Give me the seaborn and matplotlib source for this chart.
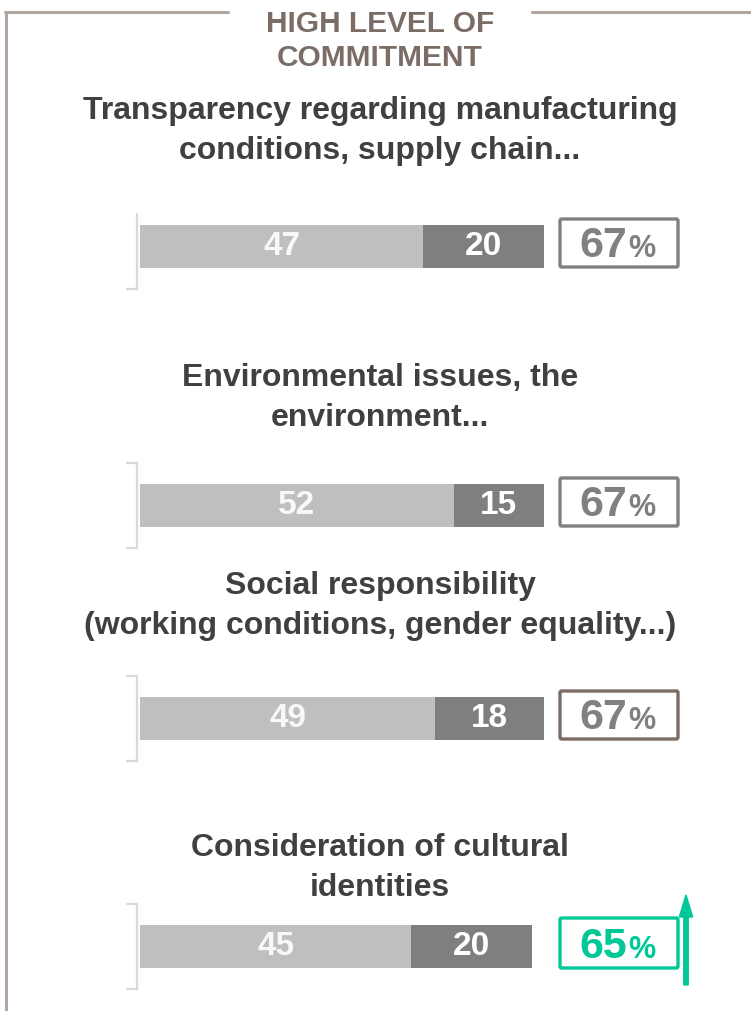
import matplotlib
matplotlib.use("Agg")
import matplotlib.pyplot as plt
import seaborn as sns
import pandas as pd
from matplotlib.lines import Line2D
from matplotlib.patches import FancyBboxPatch, FancyArrow

sns.set_theme(style="white")
plt.rcParams['font.family'] = ['Liberation Sans', 'DejaVu Sans']

# ---- data ----
header = "HIGH LEVEL OF\nCOMMITMENT"
categories = [
    "Transparency regarding manufacturing\nconditions, supply chain...",
    "Environmental issues, the\nenvironment...",
    "Social responsibility\n(working conditions, gender equality...)",
    "Consideration of cultural\nidentities",
]
high_values = [47, 52, 49, 45]
very_high_values = [20, 15, 18, 20]
totals = [h + v for h, v in zip(high_values, very_high_values)]

# ---- style ----
W, H = 751, 1011
LIGHT = "#bfbfbf"
DARK = "#7f7f7f"
TITLE_C = "#404040"
HEAD_C = "#7b6d66"
FRAME_C = "#b0a59f"
BRACKET_C = "#d9d9d9"
GREEN = "#00c896"
box_colors = ["#808080", "#808080", "#7b6d66", GREEN]
pct_colors = ["#808080", "#808080", "#808080", GREEN]

fig = plt.figure(figsize=(W / 100, H / 100), dpi=100)


def fx(x):
    return x / W


def fy(y):
    return 1 - y / H


# frame
fig.add_artist(Line2D([fx(6), fx(6)], [fy(12), fy(1011)], color=FRAME_C, lw=2.2,
                      transform=fig.transFigure, solid_capstyle='butt'))
fig.add_artist(Line2D([fx(5), fx(228)], [fy(12), fy(12)], color=FRAME_C, lw=2.2,
                      transform=fig.transFigure))
fig.add_artist(Line2D([fx(532), fx(751)], [fy(12), fy(12)], color=FRAME_C, lw=2.2,
                      transform=fig.transFigure))

fig.text(fx(380), fy(41), header, ha='center', va='center', fontsize=21.5,
         fontweight='bold', color=HEAD_C, linespacing=1.25)

title_y = [131, 398, 606, 868]
bracket_top = [204, 463, 676, 904]
bar_h = 43
ax_h = 85
box_top = [219, 478, 691, 918]
box_h = [48, 48, 48, 50]

for i, cat in enumerate(categories):
    fig.text(fx(380), fy(title_y[i]), cat, ha='center', va='center', fontsize=23,
             fontweight='bold', color=TITLE_C, linespacing=1.4)

    ax = fig.add_axes([fx(140), fy(bracket_top[i] + ax_h), fx(603), ax_h / H])
    df = pd.DataFrame({"cat": [str(i)], "total": [totals[i]], "high": [high_values[i]]})
    sns.barplot(data=df, x="total", y="cat", orient='h', color=DARK, saturation=1,
                width=bar_h / ax_h, linewidth=0, ax=ax)
    sns.barplot(data=df, x="high", y="cat", orient='h', color=LIGHT, saturation=1,
                width=bar_h / ax_h, linewidth=0, ax=ax)
    ax.set_xlim(0, 100)
    ax.set_ylim(0.5, -0.5)
    ax.set_xlabel("")
    ax.set_ylabel("")
    ax.set_xticks([])
    for s in ["top", "right", "bottom"]:
        ax.spines[s].set_visible(False)
    sp = ax.spines["left"]
    sp.set_visible(True)
    sp.set_color(BRACKET_C)
    sp.set_linewidth(1.6)
    sp.set_position(('outward', 2))
    if i == 0:
        sp.set_bounds(0.5, -0.38)
        ax.set_yticks([0.5])
    else:
        ax.set_yticks([0.5, -0.5])
    ax.set_yticklabels([])
    ax.tick_params(axis='y', length=8, width=1.6, color=BRACKET_C, direction='out', left=True)
    ax.patch.set_alpha(0)

    ax.text(high_values[i] / 2, 0, str(high_values[i]), ha='center', va='center',
            fontsize=24, fontweight='bold', color='#f8f8f8')
    ax.text(high_values[i] + very_high_values[i] / 2, 0, str(very_high_values[i]),
            ha='center', va='center', fontsize=24, fontweight='bold', color='white')

    # total box
    bt = box_top[i]
    bh = box_h[i]
    fig.add_artist(FancyBboxPatch((fx(560), fy(bt + bh)), fx(118), bh / H,
                                  boxstyle="round,pad=0,rounding_size=0.002",
                                  transform=fig.transFigure, fill=False,
                                  edgecolor=box_colors[i], lw=2.4))
    base = bt + bh - 10
    fig.text(fx(627), fy(base), str(totals[i]), ha='right', va='baseline', fontsize=31,
             fontweight='bold', color=pct_colors[i])
    fig.text(fx(628), fy(base), "%", ha='left', va='baseline', fontsize=22,
             fontweight='bold', color=pct_colors[i])

# up arrow for last item
fig.add_artist(FancyArrow(fx(686), fy(985), 0, (985 - 895) / H, width=fx(6) * W / H,
                          head_width=fx(18) * W / H, head_length=22 / H,
                          length_includes_head=True, color=GREEN,
                          transform=fig.transFigure))

fig.savefig("out.png", dpi=100)
